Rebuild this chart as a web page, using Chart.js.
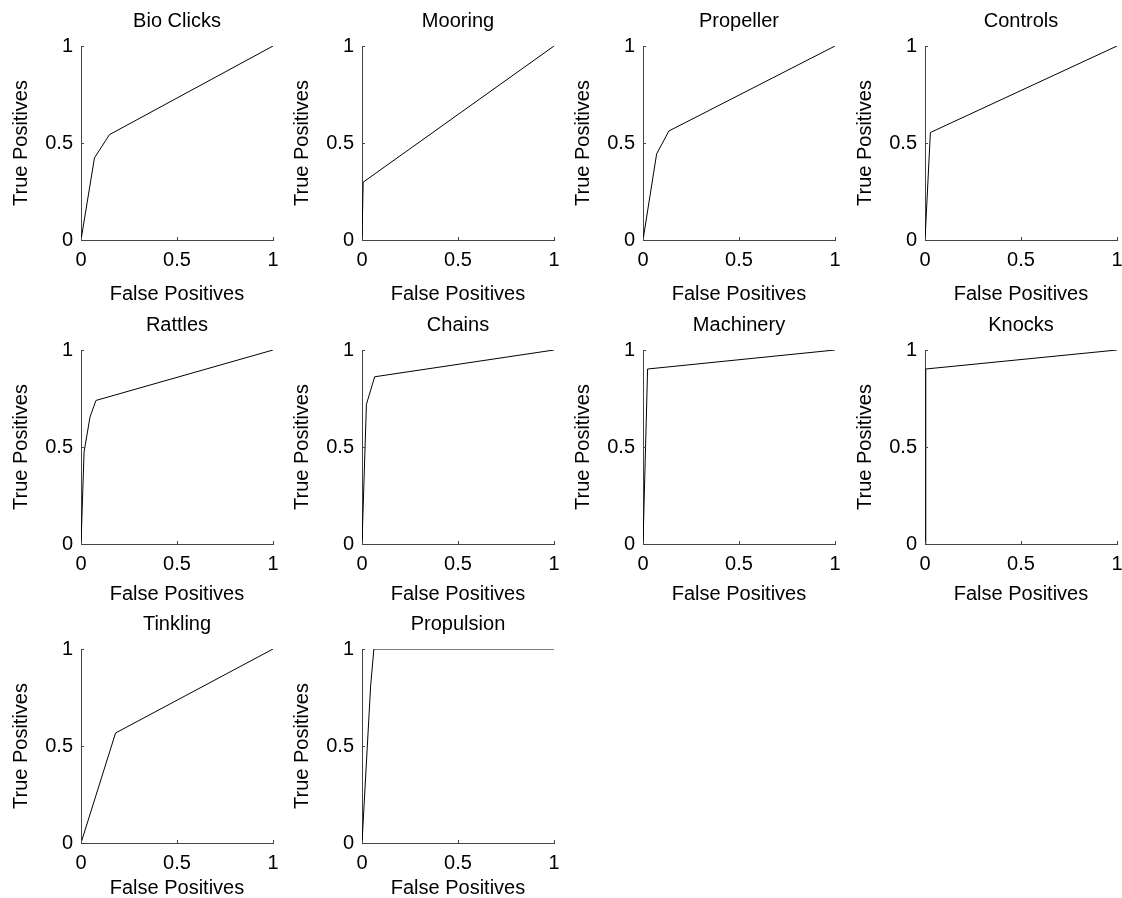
<!DOCTYPE html>
<html>
<head>
<meta charset="utf-8">
<script src="https://cdn.jsdelivr.net/npm/chart.js@4"></script>
<style>
  html, body { margin: 0; padding: 0; background: #fff; }
  #wrap { position: relative; width: 1122px; height: 898px; overflow: hidden; }
  .cell { position: absolute; width: 284px; height: 308px; }
</style>
</head>
<body>
<div id="wrap"></div>
<script>
// ROC points per class
const classNames = ["Bio Clicks", "Mooring", "Propeller", "Controls", "Rattles", "Chains",
  "Machinery", "Knocks", "Tinkling", "Propulsion"];

const fpBioClicks = [0, 0.07, 0.148, 1];
const tpBioClicks = [0, 0.423, 0.543, 1];
const fpMooring = [0, 0.006, 1];
const tpMooring = [0, 0.298, 1];
const fpPropeller = [0, 0.071, 0.135, 1];
const tpPropeller = [0, 0.444, 0.562, 1];
const fpControls = [0, 0.028, 1];
const tpControls = [0, 0.554, 1];
const fpRattles = [0, 0.016, 0.047, 0.078, 1];
const tpRattles = [0, 0.474, 0.655, 0.74, 1];
const fpChains = [0, 0.023, 0.066, 1];
const tpChains = [0, 0.72, 0.862, 1];
const fpMachinery = [0, 0.024, 1];
const tpMachinery = [0, 0.902, 1];
const fpKnocks = [0, 0.004, 1];
const tpKnocks = [0, 0.902, 1];
const fpTinkling = [0, 0.18, 1];
const tpTinkling = [0, 0.567, 1];
const fpPropulsion = [0, 0.045, 0.062, 1];
const tpPropulsion = [0, 0.81, 1, 1];

const fpList = [fpBioClicks, fpMooring, fpPropeller, fpControls, fpRattles, fpChains,
  fpMachinery, fpKnocks, fpTinkling, fpPropulsion];
const tpList = [tpBioClicks, tpMooring, tpPropeller, tpControls, tpRattles, tpChains,
  tpMachinery, tpKnocks, tpTinkling, tpPropulsion];

const tickValues = [0, 0.5, 1];
const tickLabels = ["0", "0.5", "1"];
const xTitle = "False Positives";
const yTitle = "True Positives";

// layout of the 4x3 grid (plot area left / top edges)
const colLeft = [80.5, 361.5, 643, 925];
const rowTop = [46, 350, 649];
const xTitleGap = [54, 50, 45];   // axis line -> x title centre, per row
const PLOT = 192;
const SIDE = 80;
const RIGHT = 12;
const FONT = "'Liberation Sans', Arial, Helvetica, sans-serif";

// small inward tick marks like matlab
const innerTicks = {
  id: "innerTicks",
  afterDraw(chart) {
    const { ctx, chartArea, scales } = chart;
    ctx.save();
    ctx.strokeStyle = "#444";
    ctx.lineWidth = 1;
    ctx.beginPath();
    tickValues.forEach((v) => {
      const px = Math.round(scales.x.getPixelForValue(v)) + 0.5;
      ctx.moveTo(px, chartArea.bottom);
      ctx.lineTo(px, chartArea.bottom - 3);
      const py = Math.round(scales.y.getPixelForValue(v)) + 0.5;
      ctx.moveTo(chartArea.left, py);
      ctx.lineTo(chartArea.left + 3, py);
    });
    ctx.stroke();
    ctx.restore();
  }
};

// centre the title over the plot area instead of the whole canvas
const titleOverPlot = {
  id: "titleOverPlot",
  afterLayout(chart) {
    const t = chart.titleBlock;
    if (!t) return;
    t.left = chart.chartArea.left;
    t.right = chart.chartArea.right;
    t.width = t.right - t.left;
  }
};

function tickText(value) {
  const k = tickValues.indexOf(value);
  return k >= 0 ? tickLabels[k] : "";
}

function makePanel(i) {
  const col = i % 4;
  const row = Math.floor(i / 4);
  const div = document.createElement("div");
  div.className = "cell";
  div.style.left = (colLeft[col] - SIDE) + "px";
  div.style.top = (rowTop[row] - 46) + "px";
  const canvas = document.createElement("canvas");
  canvas.width = SIDE + PLOT + RIGHT;
  canvas.height = 308;
  canvas.style.width = canvas.width + "px";
  canvas.style.height = "308px";
  div.appendChild(canvas);
  document.getElementById("wrap").appendChild(div);

  const points = fpList[i].map((fp, k) => ({ x: fp, y: tpList[i][k] }));

  new Chart(canvas.getContext("2d"), {
    type: "scatter",
    data: {
      datasets: [{
        data: points,
        showLine: true,
        borderColor: "#000",
        borderWidth: 1,
        pointRadius: 0,
        tension: 0
      }]
    },
    options: {
      responsive: false,
      animation: false,
      devicePixelRatio: 1,
      events: [],
      layout: { padding: { left: 0, right: RIGHT, top: 0, bottom: 0 } },
      plugins: {
        legend: { display: false },
        tooltip: { enabled: false },
        title: {
          display: true,
          text: classNames[i],
          color: "#000",
          font: { family: FONT, size: 20, weight: "normal" },
          padding: { top: 9, bottom: 13 }
        }
      },
      scales: {
        x: {
          type: "linear",
          min: 0,
          max: 1,
          afterFit: (scale) => {
            scale.height = 68;
            scale.paddingLeft = 0;
            scale.paddingRight = 0;
          },
          afterBuildTicks: (scale) => { scale.ticks = tickValues.map((v) => ({ value: v })); },
          grid: { display: false, drawTicks: false },
          border: { display: true, color: "#444", width: 1 },
          ticks: { color: "#000", padding: 8, font: { family: FONT, size: 20 }, callback: tickText },
          title: {
            display: true,
            text: xTitle,
            color: "#000",
            font: { family: FONT, size: 20 },
            padding: { top: 0, bottom: 56 - xTitleGap[row] }
          }
        },
        y: {
          type: "linear",
          min: 0,
          max: 1,
          afterFit: (scale) => {
            scale.width = SIDE;
            scale.paddingTop = 0;
            scale.paddingBottom = 0;
          },
          afterBuildTicks: (scale) => { scale.ticks = tickValues.map((v) => ({ value: v })); },
          grid: { display: false, drawTicks: false },
          border: { display: true, color: "#444", width: 1 },
          ticks: { color: "#000", padding: 8, font: { family: FONT, size: 20 }, callback: tickText },
          title: {
            display: true,
            text: yTitle,
            color: "#000",
            font: { family: FONT, size: 20 },
            padding: { top: 8, bottom: 0 }
          }
        }
      }
    },
    plugins: [innerTicks, titleOverPlot]
  });
}

classNames.forEach((name, i) => makePanel(i));
</script>
</body>
</html>
